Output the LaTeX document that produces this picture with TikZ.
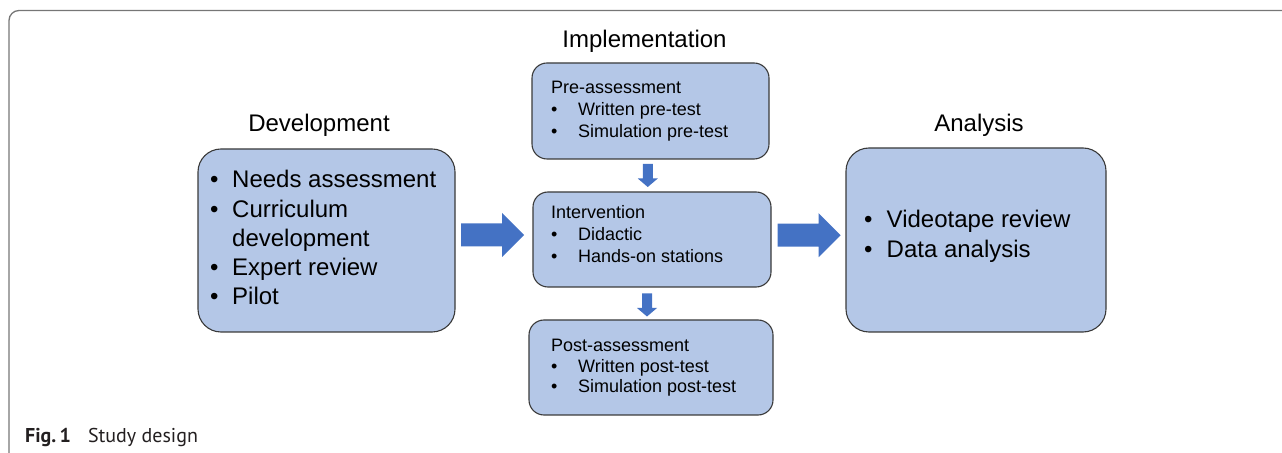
\documentclass[tikz,border=0pt]{standalone}
\usepackage{fontspec}
\setmainfont{Liberation Sans}
\newfontfamily\capfont{PT Sans}
\usetikzlibrary{calc}

\definecolor{boxfill}{HTML}{B4C7E7}
\definecolor{boxline}{HTML}{3A3A3A}
\definecolor{flowblue}{HTML}{4472C4}
\definecolor{framegray}{HTML}{767676}
\definecolor{captext}{HTML}{231F20}

% one bulleted line: #1 = indent of the text, #2 = text
\newcommand\bline[2]{\hbox{\hbox to #1{\textbullet\hss}#2}}
\newcommand\plainline[2]{\hbox{\hbox to #1{\hss}#2}}

\tikzset{
  bigbox/.style={draw=boxline, fill=boxfill, line width=1.1bp,
    rounded corners=23bp, inner sep=0pt, outer sep=0pt},
  smallbox/.style={draw=boxline, fill=boxfill, line width=1.1bp,
    rounded corners=15bp, inner sep=0pt, outer sep=0pt},
  heading/.style={anchor=base, inner sep=0pt, font=\fontsize{24bp}{29bp}\selectfont},
  bigtext/.style={anchor=base west, inner sep=0pt, font=\fontsize{24bp}{29bp}\selectfont},
  smalltext/.style={anchor=base west, inner sep=0pt, font=\fontsize{18bp}{21.5bp}\selectfont},
  rarrow/.pic={\fill[flowblue] (-31.5,-11.5) -- (9.5,-11.5) -- (9.5,-22) -- (31.5,0)
      -- (9.5,22) -- (9.5,11.5) -- (-31.5,11.5) -- cycle;},
  darrow/.pic={\fill[flowblue] (-5,-11.5) -- (5,-11.5) -- (5,3) -- (10,3) -- (0,11.5)
      -- (-10,3) -- (-5,3) -- cycle;}
}

\begin{document}
\begin{tikzpicture}[x=1bp, y=-1bp]
\useasboundingbox (0,0) rectangle (1282,453);

% figure frame (open at the right and at the bottom)
\draw[framegray, line width=1.3bp, rounded corners=10bp]
  (9,453) -- (9,10.5) -- (1282,10.5);

% stage boxes
\node[bigbox, minimum width=257bp, minimum height=183bp] (dev) at (326.5,240.5) {};
\node[bigbox, minimum width=260bp, minimum height=184bp] (ana) at (976,240) {};
\node[smallbox, minimum width=237bp, minimum height=96bp] (pre) at (650.5,111) {};
\node[smallbox, minimum width=238bp, minimum height=95bp] (int) at (652,239.5) {};
\node[smallbox, minimum width=244bp, minimum height=95bp] (post) at (651,367.5) {};

% stage headings
\node[heading] (devtitle) at (319,132) {Development};
\node[heading] (imptitle) at (644.5,48) {Implementation};
\node[heading] (anatitle) at (979,132) {Analysis};

% box contents
\node[bigtext] (devtext) at (210,188) {\vtop{\baselineskip=29.25bp
  \bline{22bp}{Needs assessment}
  \bline{22bp}{Curriculum}
  \plainline{22bp}{development}
  \bline{22bp}{Expert review}
  \bline{22bp}{Pilot}}};

\node[bigtext] (anatext) at (864,228) {\vtop{\baselineskip=30bp
  \bline{22.5bp}{Videotape review}
  \bline{22.5bp}{Data analysis}}};

\node[smalltext] (pretext) at (551,94) {\vtop{\baselineskip=22bp
  \hbox{Pre-assessment}
  \bline{27bp}{Written pre-test}
  \bline{27bp}{Simulation pre-test}}};

\node[smalltext] (inttext) at (551,219) {\vtop{\baselineskip=22bp
  \hbox{Intervention}
  \bline{27bp}{Didactic}
  \bline{27bp}{Hands-on stations}}};

\node[smalltext] (posttext) at (551,352) {\vtop{\baselineskip=20.5bp
  \hbox{Post-assessment}
  \bline{27bp}{Written post-test}
  \bline{27bp}{Simulation post-test}}};

% block arrows between the stages
\path ($(dev.east)!0.5!(int.west)+(-1.5,-5)$) coordinate (devint);
\path ($(int.east)!0.5!(ana.west)+(0.5,-4.5)$) coordinate (intana);
\path ($(pre.south)!0.5!(int.north)+(-3.5,0)$) coordinate (preint);
\path ($(int.south)!0.5!(post.north)+(-4.5,1.5)$) coordinate (intpost);
\pic at (devint) {rarrow};
\pic at (intana) {rarrow};
\pic at (preint) {darrow};
\pic at (intpost) {darrow};

% caption
\node[anchor=base west, inner sep=0pt, text=captext,
      font=\capfont\fontsize{20bp}{24bp}\selectfont] (caption) at (25,443)
  {\textbf{Fig.\,1}\hspace{17bp}Study design};
\end{tikzpicture}
\end{document}
